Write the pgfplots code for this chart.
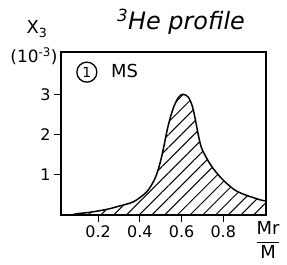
\documentclass[border=0pt]{standalone}
\usepackage{fontspec}
\setmainfont{DejaVu Sans}
\usepackage{pgfplots}
\pgfplotsset{compat=1.18}
\usetikzlibrary{patterns.meta}
\pgfplotstableread{
x y
0.075 0.0
0.095 0.03
0.15 0.06
0.2 0.1
0.25 0.15
0.3 0.22
0.37 0.33
0.43 0.56
0.46 0.78
0.48 1.0
0.50 1.35
0.515 1.7
0.535 2.2
0.56 2.65
0.585 2.92
0.607 3.0
0.632 2.93
0.652 2.7
0.667 2.35
0.682 1.95
0.697 1.65
0.727 1.35
0.757 1.12
0.797 0.88
0.85 0.64
0.895 0.52
0.945 0.43
0.975 0.38
0.99 0.36
1.005 0.35
}\curve
\begin{document}
\begin{tikzpicture}
\useasboundingbox (-61bp,-50bp) rectangle (226bp,215bp);
\begin{axis}[
  at={(0,0)}, anchor=south west,
  scale only axis, width=205bp, height=163bp,
  xmin=0.022, xmax=1.005, ymin=0, ymax=4.05,
  axis line style={line width=1.5pt},
  xtick={0.2,0.4,0.6,0.8}, ytick={1,2,3},
  xticklabels={0.2,0.4,0.6,0.8}, yticklabels={1,2,3},
  tick align=outside, tick pos=left,
  major tick length=7bp,
  tick style={line width=1.2pt, black},
  tick label style={font=\fontsize{16}{16}\selectfont},
  /pgf/number format/assume math mode=true,
  clip=false,
]
\addplot[draw=none, smooth, tension=0.5,
  pattern={Lines[angle=45,distance=9bp,line width=1pt]}]
  table {\curve} \closedcycle;
\addplot[line width=1.5pt, black, smooth, tension=0.5] table {\curve};
\node[font=\fontsize{14}{14}\selectfont, draw, circle, line width=1.3pt, inner sep=1pt, minimum size=20bp] at (axis cs:0.146,3.55) {1};
\node[font=\fontsize{18}{18}\selectfont, anchor=west] at (axis cs:0.245,3.58) {MS};
\end{axis}
\node[font=\fontsize{24}{24}\selectfont\itshape, anchor=base] at (120bp,185bp) {\textsuperscript{3}He profile};
\node[font=\fontsize{18}{18}\selectfont] at (-24bp,186bp) {X\textsubscript{3}};
\node[font=\fontsize{17}{17}\selectfont] at (-27bp,159bp) {(10\textsuperscript{-3})};
\node[font=\fontsize{18}{18}\selectfont, inner sep=0pt] at (207bp,-25bp)
  {$\displaystyle\frac{\textrm{Mr}}{\textrm{M}}$};
\end{tikzpicture}
\end{document}
